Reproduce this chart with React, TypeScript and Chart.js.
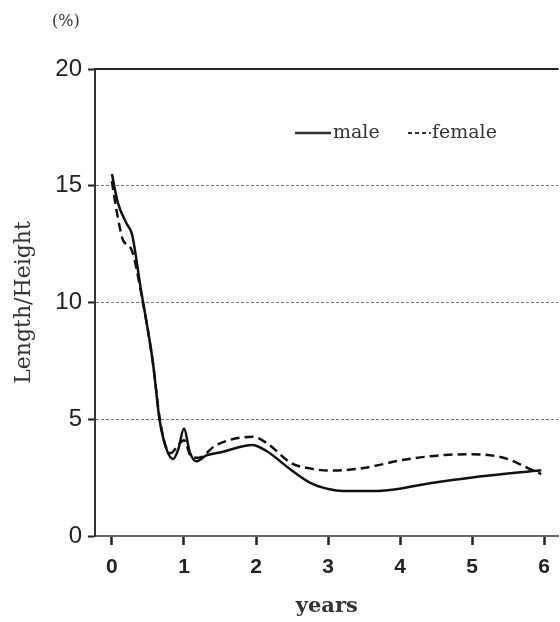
import React, { useEffect, useRef } from "react";
import { Chart, registerables } from "chart.js";

Chart.register(...registerables);

const maleX = [0, 0.08, 0.2, 0.28, 0.4, 0.57, 0.66, 0.76, 0.85, 0.92, 1.0, 1.08, 1.17, 1.31, 1.53, 1.95, 2.14, 2.5, 2.74, 3.02, 3.2, 3.7, 4.4, 5.1, 5.96];
const maleY = [15.5, 14.3, 13.4, 12.9, 10.6, 7.4, 5.0, 3.7, 3.3, 3.7, 4.6, 3.6, 3.2, 3.45, 3.6, 3.9, 3.65, 2.8, 2.3, 2.0, 1.93, 1.93, 2.25, 2.55, 2.82];

const femaleX = [0, 0.05, 0.11, 0.15, 0.28, 0.4, 0.57, 0.66, 0.75, 0.82, 0.92, 1.0, 1.1, 1.2, 1.45, 1.95, 2.14, 2.5, 2.74, 3.02, 3.47, 4.08, 4.63, 5.0, 5.46, 5.78, 5.96];
const femaleY = [15.2, 14.2, 13.2, 12.7, 12.2, 10.5, 7.4, 5.1, 3.8, 3.55, 3.9, 4.1, 3.4, 3.35, 3.9, 4.25, 4.0, 3.1, 2.9, 2.8, 2.9, 3.28, 3.47, 3.5, 3.33, 2.9, 2.65];

const xTicks = [0, 1, 2, 3, 4, 5, 6];
const yTicks = [0, 5, 10, 15, 20];
const seriesNames = ["male", "female"];
const yTitle = "Length/Height";
const xTitle = "years";
const unitLabel = "(%)";

const toPoints = (xs: number[], ys: number[]) => xs.map((x, i) => ({ x, y: ys[i] }));

const decorPlugin = {
  id: "decor",
  afterDraw(chart: any) {
    const { ctx, chartArea } = chart;
    ctx.save();
    ctx.strokeStyle = "#222";
    ctx.lineWidth = 2;
    ctx.beginPath();
    ctx.moveTo(chartArea.left, chartArea.top);
    ctx.lineTo(chartArea.right, chartArea.top);
    ctx.stroke();
    ctx.fillStyle = "#333";
    ctx.font = "16px 'DejaVu Serif'";
    ctx.textBaseline = "middle";
    ctx.textAlign = "left";
    ctx.fillText(unitLabel, 52, 22);
    const ly = 133;
    ctx.strokeStyle = "#333";
    ctx.lineWidth = 2.5;
    ctx.setLineDash([]);
    ctx.beginPath();
    ctx.moveTo(295, ly);
    ctx.lineTo(331, ly);
    ctx.stroke();
    ctx.font = "19px 'DejaVu Serif'";
    ctx.fillText(seriesNames[0], 333, ly);
    ctx.setLineDash([4, 3]);
    ctx.lineWidth = 2;
    ctx.beginPath();
    ctx.moveTo(408, ly);
    ctx.lineTo(431, ly);
    ctx.stroke();
    ctx.setLineDash([]);
    ctx.fillText(seriesNames[1], 432, ly);
    ctx.restore();
  },
};

export default function App() {
  const ref = useRef<HTMLCanvasElement | null>(null);
  useEffect(() => {
    if (!ref.current) return;
    const chart = new Chart(ref.current, {
      type: "line",
      data: {
        datasets: [
          {
            label: seriesNames[0],
            data: toPoints(maleX, maleY),
            borderColor: "#111",
            borderWidth: 2.5,
            pointRadius: 0,
            cubicInterpolationMode: "monotone",
            fill: false,
          },
          {
            label: seriesNames[1],
            data: toPoints(femaleX, femaleY),
            borderColor: "#111",
            borderWidth: 2.5,
            borderDash: [9, 5],
            pointRadius: 0,
            cubicInterpolationMode: "monotone",
            fill: false,
          },
        ],
      },
      options: {
        responsive: false,
        animation: false,
        devicePixelRatio: 1,
        layout: { padding: { top: 69, right: 0, left: 0, bottom: 0 } },
        plugins: { legend: { display: false }, tooltip: { enabled: false } },
        scales: {
          x: {
            type: "linear",
            min: -0.235,
            max: 6.2,
            afterBuildTicks: (s: any) => {
              s.ticks = xTicks.map((v) => ({ value: v }));
            },
            afterFit: (s: any) => {
              s.height = 86;
            },
            grid: {
              drawOnChartArea: false,
              drawTicks: true,
              tickLength: 9,
              tickColor: "#222",
              tickWidth: 2.5,
            },
            border: { color: "#666", width: 2 },
            ticks: {
              autoSkip: false,
              maxRotation: 0,
              padding: 10,
              color: "#222",
              font: { family: "'Liberation Sans', Arial, sans-serif", size: 21, weight: "bold" },
            },
            title: {
              display: true,
              text: xTitle,
              color: "#333",
              font: { family: "'DejaVu Serif'", size: 21, weight: "bold" },
              padding: { top: 0, bottom: 3 },
            },
          },
          y: {
            min: 0,
            max: 20,
            afterBuildTicks: (s: any) => {
              s.ticks = yTicks.map((v) => ({ value: v }));
            },
            afterFit: (s: any) => {
              s.width = 95;
            },
            grid: {
              color: (c: any) => (c.tick && (c.tick.value === 0 || c.tick.value === 20) ? "rgba(0,0,0,0)" : "#777"),
              lineWidth: 1,
              tickColor: "#222",
              tickLength: 7,
              tickWidth: 2,
            },
            border: { color: "#333", width: 2, dash: [3, 2] },
            ticks: {
              padding: 6,
              color: "#222",
              font: { family: "'Liberation Sans', Arial, sans-serif", size: 24 },
            },
            title: {
              display: true,
              text: yTitle,
              color: "#333",
              font: { family: "'DejaVu Serif'", size: 22 },
              padding: { top: 11, bottom: 0 },
            },
          },
        },
      },
      plugins: [decorPlugin],
    } as any);
    return () => chart.destroy();
  }, []);
  return (
    <div style={{ position: "absolute", left: 0, top: 0, width: 560, height: 622, background: "#fff" }}>
      <canvas ref={ref} width={560} height={622} />
    </div>
  );
}
